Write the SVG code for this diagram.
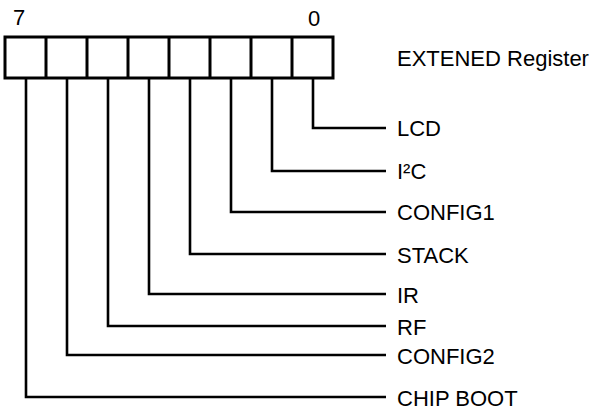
<svg xmlns="http://www.w3.org/2000/svg" width="590" height="410" viewBox="0 0 590 410">
<style>
text{font-family:"Liberation Sans",Arial,sans-serif;font-size:22px;fill:#000}
.box{fill:#fff;stroke:#000;stroke-width:3}
.div{stroke:#000;stroke-width:3}
.c{fill:none;stroke:#000;stroke-width:2.6;stroke-linejoin:miter}
</style>
<rect width="590" height="410" fill="#fff"/>
<g id="register">
<rect class="box" x="5" y="37" width="328" height="41"/>
<line class="div" x1="46" y1="37" x2="46" y2="78"/>
<line class="div" x1="87" y1="37" x2="87" y2="78"/>
<line class="div" x1="128" y1="37" x2="128" y2="78"/>
<line class="div" x1="169" y1="37" x2="169" y2="78"/>
<line class="div" x1="210" y1="37" x2="210" y2="78"/>
<line class="div" x1="251" y1="37" x2="251" y2="78"/>
<line class="div" x1="292" y1="37" x2="292" y2="78"/>
<text x="13" y="25">7</text>
<text x="308" y="26">0</text>
<text x="397" y="66">EXTENED Register</text>
</g>
<g id="connectors">
<polyline class="c" points="313,78 313,128 386,128"/>
<polyline class="c" points="272,78 272,171 386,171"/>
<polyline class="c" points="231,78 231,212 386,212"/>
<polyline class="c" points="190,78 190,254 386,254"/>
<polyline class="c" points="149,78 149,294 386,294"/>
<polyline class="c" points="108,78 108,326 386,326"/>
<polyline class="c" points="67,78 67,355 386,355"/>
<polyline class="c" points="26,78 26,397 386,397"/>
</g>
<g id="lcd"><text x="397" y="136">LCD</text></g>
<g id="i2c"><text x="397" y="179">I²C</text></g>
<g id="config1"><text x="397" y="220">CONFIG1</text></g>
<g id="stack"><text x="397" y="263">STACK</text></g>
<g id="ir"><text x="397" y="303">IR</text></g>
<g id="rf"><text x="397" y="335">RF</text></g>
<g id="config2"><text x="397" y="364">CONFIG2</text></g>
<g id="chipboot"><text x="397" y="406">CHIP BOOT</text></g>
</svg>
